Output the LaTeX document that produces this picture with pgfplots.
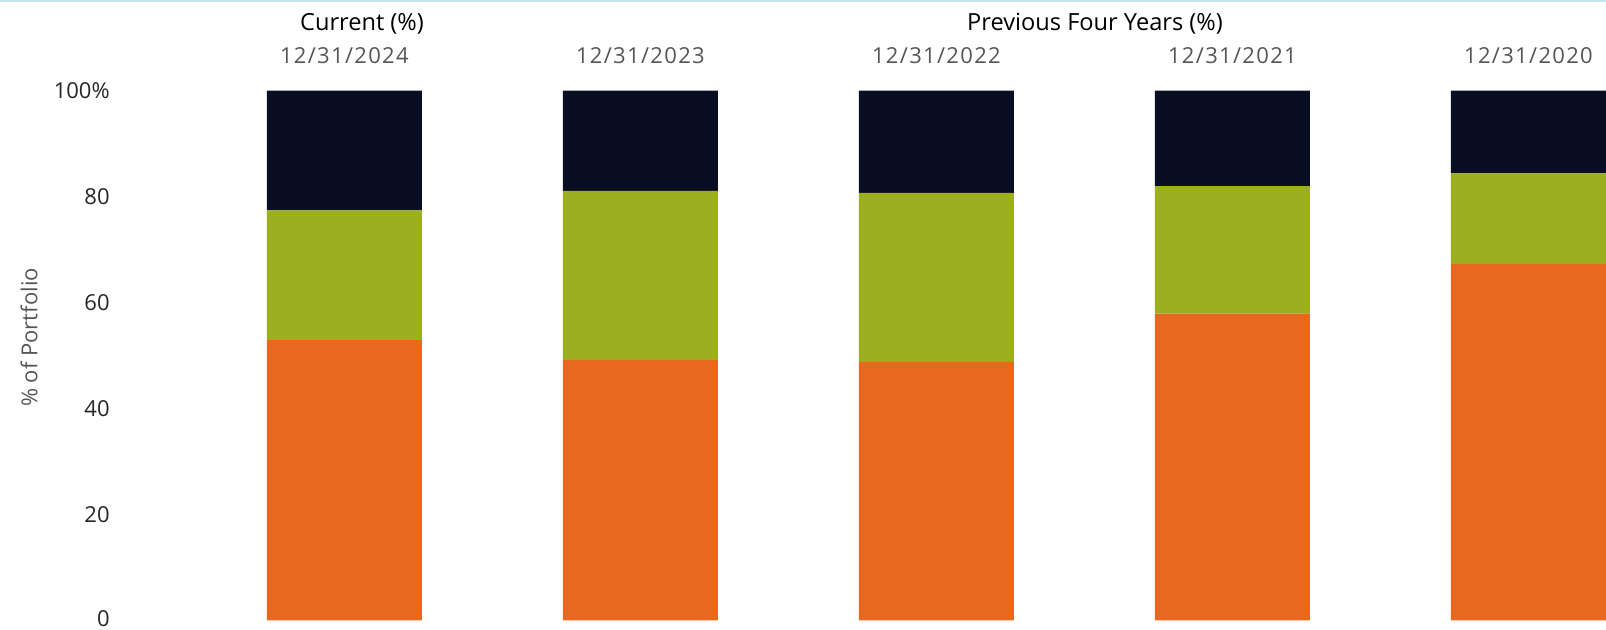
\documentclass[border=0pt]{standalone}
\usepackage{fontspec}
\setmainfont{Open Sans}
\newfontfamily\datefont[LetterSpace=6]{Open Sans}
\usepackage{pgfplots}
\pgfplotsset{compat=1.18}
\definecolor{cnavy}{HTML}{0A0E23}
\definecolor{cgreen}{HTML}{9BAF1F}
\definecolor{corange}{HTML}{E8681F}
\definecolor{cdate}{HTML}{555555}
\definecolor{cline}{HTML}{C4E6F2}
\begin{document}
\begin{tikzpicture}
\path[use as bounding box] (0,0) rectangle (803pt,315pt);
\fill[cline] (0,314pt) rectangle (803pt,315pt);
\begin{axis}[
  at={(62.5pt,4.75pt)}, anchor=south west,
  scale only axis, width=740.5pt, height=264.9pt,
  xmin=-0.741, xmax=4.262, ymin=0, ymax=100,
  enlargelimits=false,
  ybar stacked, bar width=77.5pt,
  axis line style={draw=none}, tick style={draw=none},
  xtick={0,1,2,3,4},
  xticklabels={12/31/2024,12/31/2023,12/31/2022,12/31/2021,12/31/2020},
  xticklabel pos=right,
  xticklabel style={anchor=center, yshift=17.35pt, font=\datefont\fontsize{11}{13}\selectfont, text=cdate},
  ytick={0,20,40,60,80,100},
  yticklabels={\raisebox{2pt}{0},20,40,60,80,100\%},
  yticklabel style={anchor=east, inner sep=0pt, xshift=-7.5pt, font=\fontsize{11}{13}\selectfont, text=black!85},
  clip=true,
]
\addplot[fill=corange, draw=none] coordinates {(0,52.9) (1,49.2) (2,48.8) (3,57.9) (4,67.3)};
\addplot[fill=cgreen, draw=none] coordinates {(0,24.5) (1,31.9) (2,31.9) (3,24.1) (4,17.1)};
\addplot[fill=cnavy, draw=none] coordinates {(0,22.6) (1,18.9) (2,19.3) (3,18.0) (4,15.6)};
\end{axis}
\node[font=\fontsize{11.8}{14}\selectfont, text=black] at (181pt,303.25pt) {Current (\%)};
\node[font=\fontsize{11.8}{14}\selectfont, text=black] at (547.5pt,303.25pt) {Previous Four Years (\%)};
\node[rotate=90, font=\fontsize{11}{13}\selectfont, text=cdate] at (14.5pt,146.25pt) {\% of Portfolio};
\end{tikzpicture}
\end{document}
